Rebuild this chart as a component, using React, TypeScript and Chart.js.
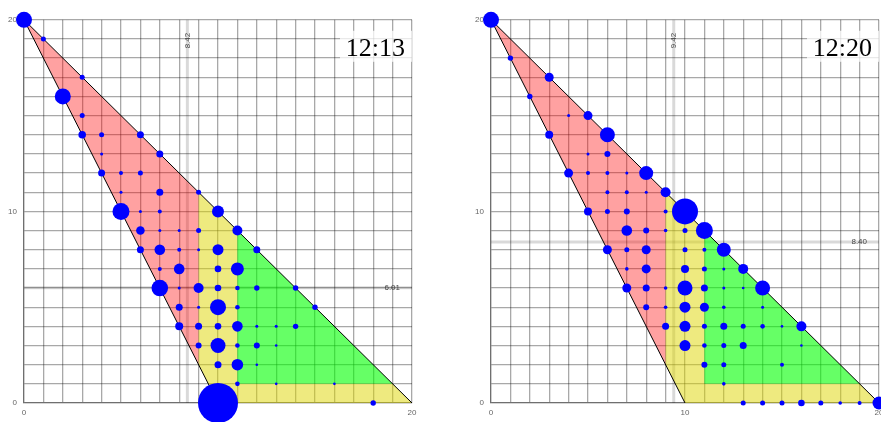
import React, { useEffect, useRef } from 'react';
import { Chart, registerables } from 'chart.js';

Chart.register(...registerables);

type Bubble = [number, number, number];
type Vertex = [number, number];

// Snapshot times and the marker values shown in each panel
const times = ['12:13', '12:20'];
const verticalMarks = [8.42, 9.42];
const horizontalMarks = [6.01, 8.4];
const labelledTicks = [0, 10, 20];

// Zone outlines (x, y)
const triangleEdge: Vertex[] = [[10, 0], [0, 20], [20, 0]];
const redZone: Vertex[] = [[0, 20], [9, 11], [9, 2], [0, 20]];
const yellowZone: Vertex[] = [[9, 11], [11, 9], [11, 1], [19, 1], [20, 0], [10, 0], [9, 2], [9, 11]];
const greenZone: Vertex[] = [[11, 9], [19, 1], [11, 1], [11, 9]];

// Bubbles: x, y, radius
const bubbles1213: Bubble[] = [
  [0, 20, 8], [1, 19, 2.5], [3, 17, 2.5], [2, 16, 8], [3, 15, 2.5], [3, 14, 3.8], [4, 14, 2.5],
  [6, 14, 3.5], [4, 13, 1.5], [7, 13, 3.5], [4, 12, 3.5], [5, 12, 2], [6, 12, 2.5], [5, 11, 1.5],
  [7, 11, 3.5], [9, 11, 2.5], [5, 10, 8.5], [6, 10, 1.5], [7, 10, 2], [10, 10, 6], [6, 9, 4.3],
  [7, 9, 1.5], [8, 9, 1.5], [9, 9, 2.5], [11, 9, 5], [6, 8, 3.5], [7, 8, 5.3], [8, 8, 2],
  [9, 8, 1.5], [10, 8, 5.5], [12, 8, 3.5], [7, 7, 2], [8, 7, 5.3], [10, 7, 3.3], [11, 7, 6.5],
  [7, 6, 8.3], [8, 6, 1.5], [9, 6, 5], [10, 6, 3.3], [11, 6, 2.3], [12, 6, 2.7], [14, 6, 2.7],
  [8, 5, 3.5], [9, 5, 1.5], [10, 5, 8], [11, 5, 2.3], [15, 5, 2.7], [8, 4, 4], [9, 4, 3.5],
  [10, 4, 3.3], [11, 4, 5.3], [12, 4, 1.5], [13, 4, 1.5], [14, 4, 2.7], [9, 3, 3], [10, 3, 7.5],
  [11, 3, 2.3], [12, 3, 3], [13, 3, 1.3], [10, 2, 3.5], [11, 2, 5.8], [12, 2, 1.3], [11, 1, 2.3],
  [13, 1, 1.3], [16, 1, 1.3], [10, 0, 20], [18, 0, 2.7],
];

const bubbles1220: Bubble[] = [
  [0, 20, 8], [1, 18, 2.7], [3, 17, 4.5], [2, 16, 2.7], [4, 15, 1.5], [5, 15, 4.5], [3, 14, 4],
  [6, 14, 7.5], [5, 13, 1.5], [6, 13, 3], [4, 12, 4.5], [5, 12, 2], [6, 12, 2], [7, 12, 1.5],
  [8, 12, 7], [6, 11, 2], [7, 11, 2], [8, 11, 1.5], [9, 11, 5], [5, 10, 4], [6, 10, 2.5],
  [7, 10, 3], [9, 10, 2], [10, 10, 13], [7, 9, 5.3], [8, 9, 3], [9, 9, 1.8], [10, 9, 2.5],
  [11, 9, 8.5], [6, 8, 4.5], [7, 8, 2.5], [8, 8, 4.5], [10, 8, 2.5], [11, 8, 2], [12, 8, 7],
  [7, 7, 1.8], [8, 7, 4.5], [10, 7, 4], [11, 7, 2.5], [12, 7, 1.5], [13, 7, 5], [7, 6, 4.5],
  [8, 6, 3.5], [9, 6, 1.8], [10, 6, 7.5], [11, 6, 3.5], [12, 6, 1.5], [13, 6, 1.3], [14, 6, 7.5],
  [8, 5, 3], [9, 5, 1.8], [10, 5, 5.5], [11, 5, 4.5], [12, 5, 1.8], [14, 5, 1.5], [9, 4, 3.5],
  [10, 4, 5.5], [11, 4, 2.5], [12, 4, 3.5], [13, 4, 2.5], [14, 4, 2.3], [15, 4, 1.3], [16, 4, 5],
  [10, 3, 5.5], [11, 3, 2.3], [12, 3, 2.5], [13, 3, 3.5], [16, 3, 1.3], [11, 2, 3], [12, 2, 2.5],
  [15, 2, 2], [12, 1, 1.8], [13, 0, 2.5], [14, 0, 2.5], [15, 0, 2.5], [16, 0, 3.3], [17, 0, 2.5],
  [18, 0, 1.8], [19, 0, 2], [20, 0, 6.5],
];

const panels = [
  { time: times[0], vx: verticalMarks[0], hy: horizontalMarks[0], bubbles: bubbles1213, left: 8 },
  { time: times[1], vx: verticalMarks[1], hy: horizontalMarks[1], bubbles: bubbles1220, left: 475 },
];

const GRID = 'rgba(0,0,0,0.34)';
const toPoints = (vs: Vertex[]) => vs.map(([x, y]) => ({ x, y }));

function zone(vs: Vertex[], color: string) {
  return {
    type: 'line' as const,
    data: toPoints(vs),
    backgroundColor: color,
    borderColor: 'transparent',
    borderWidth: 0,
    pointRadius: 0,
    tension: 0,
    fill: 'shape' as const,
  };
}

function overlay(vx: number, hy: number, time: string) {
  return {
    id: 'markers',
    beforeDatasetsDraw(chart: any) {
      const { ctx, chartArea: a, scales } = chart;
      const px = scales.x.getPixelForValue(vx);
      const py = scales.y.getPixelForValue(hy);
      ctx.save();
      ctx.strokeStyle = 'rgba(0,0,0,0.15)';
      ctx.lineWidth = 3;
      ctx.beginPath();
      ctx.moveTo(px, a.top);
      ctx.lineTo(px, a.bottom);
      ctx.stroke();
      ctx.beginPath();
      ctx.moveTo(a.left, py);
      ctx.lineTo(a.right, py);
      ctx.stroke();
      ctx.restore();
    },
    afterDatasetsDraw(chart: any) {
      const { ctx, chartArea: a, scales } = chart;
      const px = scales.x.getPixelForValue(vx);
      const py = scales.y.getPixelForValue(hy);
      ctx.save();
      ctx.fillStyle = '#444';
      ctx.font = '8px "Liberation Sans", Arial, sans-serif';
      ctx.textBaseline = 'middle';
      // horizontal marker value, near the right edge
      ctx.textAlign = 'right';
      ctx.fillText(hy.toFixed(2), a.right - 12, py);
      // vertical marker value, rotated, near the top edge
      ctx.translate(px, a.top + 13);
      ctx.rotate(-Math.PI / 2);
      ctx.textAlign = 'right';
      ctx.fillText(vx.toFixed(2), 0, 0);
      ctx.restore();

      // time stamp with a translucent backdrop
      ctx.save();
      ctx.fillStyle = 'rgba(255,255,255,0.75)';
      ctx.fillRect(a.right - 72, a.top + 11, 72, 31);
      ctx.fillStyle = '#000';
      ctx.font = '26px "Liberation Serif", "Times New Roman", serif';
      ctx.textAlign = 'right';
      ctx.textBaseline = 'alphabetic';
      ctx.fillText(time, a.right - 7, a.top + 36);
      ctx.restore();
    },
  };
}

function axis(kind: 'x' | 'y') {
  return {
    type: 'linear' as const,
    min: 0,
    max: 20,
    ticks: {
      stepSize: 1,
      autoSkip: false,
      maxRotation: 0,
      padding: kind === 'x' ? 5 : 7,
      color: '#666',
      font: { size: 8 },
      callback: (v: number) => (labelledTicks.includes(v) ? String(v) : ''),
    },
    grid: { color: GRID, lineWidth: 1.3, drawTicks: false },
    border: { color: GRID, width: 1.3 },
    afterFit: (s: any) => {
      if (kind === 'x') s.height = 19;
      else s.width = 16;
    },
  };
}

function Panel({ time, vx, hy, bubbles, left }: any) {
  const ref = useRef<HTMLCanvasElement>(null);
  useEffect(() => {
    if (!ref.current) return;
    const chart = new Chart(ref.current, {
      type: 'bubble',
      data: {
        datasets: [
          {
            type: 'bubble',
            data: bubbles.map(([x, y, r]: Bubble) => ({ x, y, r })),
            backgroundColor: '#0000ff',
            borderWidth: 0,
            hoverBorderWidth: 0,
            clip: false,
          } as any,
          {
            type: 'line',
            data: toPoints(triangleEdge),
            borderColor: '#000',
            borderWidth: 1,
            pointRadius: 0,
            tension: 0,
            fill: false,
          } as any,
          zone(greenZone, 'rgba(0,255,0,0.6)') as any,
          zone(yellowZone, 'rgba(222,214,0,0.5)') as any,
          zone(redZone, 'rgba(255,0,0,0.37)') as any,
        ],
      },
      options: {
        responsive: false,
        animation: false,
        events: [],
        layout: { autoPadding: false, padding: { top: 6, right: 16, left: 0, bottom: 0 } },
        plugins: { legend: { display: false }, tooltip: { enabled: false } },
        scales: { x: axis('x'), y: axis('y') } as any,
      },
      plugins: [overlay(vx, hy, time)],
    });
    return () => chart.destroy();
  }, [time, vx, hy, bubbles]);
  return (
    <canvas
      ref={ref}
      width={420}
      height={414}
      style={{ display: 'block', position: 'fixed', top: 8, left }}
    />
  );
}

export default function App() {
  return (
    <>
      <style>{'html{overflow:hidden}'}</style>
      <Panel {...panels[0]} />
      <Panel {...panels[1]} />
    </>
  );
}
